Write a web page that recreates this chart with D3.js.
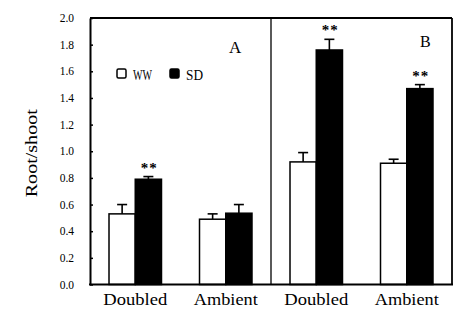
<!DOCTYPE html>
<html>
  <head>
    <script src="https://d3js.org/d3.v7.min.js"></script>
    <style>
      body { margin: 0; background: #fff; }
      .yaxis text { font-family: "Liberation Serif", "DejaVu Serif", serif; font-size: 11.5px; fill: #000; }
      .xaxis text { font-family: "Liberation Serif", "DejaVu Serif", serif; font-size: 17px; fill: #000; }
      .serif { font-family: "Liberation Serif", "DejaVu Serif", serif; }
    </style>
  </head>
  <body>
    <script>
      const groups = ['Doubled A', 'Ambient A', 'Doubled B', 'Ambient B'];
      const groupLabels = ['Doubled', 'Ambient', 'Doubled', 'Ambient'];
      const series = ['WW', 'SD'];
      const wwValues = [0.53, 0.49, 0.92, 0.91];
      const wwErrors = [0.07, 0.04, 0.07, 0.03];
      const sdValues = [0.79, 0.535, 1.76, 1.47];
      const sdErrors = [0.02, 0.065, 0.08, 0.03];
      const sdStars = ['**', '', '**', '**'];
      const yTicks = [0, 0.2, 0.4, 0.6, 0.8, 1.0, 1.2, 1.4, 1.6, 1.8, 2.0];

      const width = 467, height = 321;
      const plotL = 90, plotR = 452, plotT = 18, plotB = 284.5;

      const svg = d3.select('body').append('svg')
        .attr('width', width).attr('height', height);

      const x = d3.scaleBand().domain(groups).range([plotL, plotR])
        .paddingInner(0.42).paddingOuter(0.21);
      const xs = d3.scaleBand().domain(series).range([0, x.bandwidth()]);
      const y = d3.scaleLinear().domain([0, 2]).range([plotB, plotT]);

      const bars = [];
      groups.forEach((g, i) => {
        bars.push({ g, s: 'WW', v: wwValues[i], e: wwErrors[i], star: '' });
        bars.push({ g, s: 'SD', v: sdValues[i], e: sdErrors[i], star: sdStars[i] });
      });

      // error bars (upward only)
      const eb = svg.append('g').attr('stroke', '#000').attr('stroke-width', 1.6);
      bars.forEach(d => {
        const cx = x(d.g) + xs(d.s) + xs.bandwidth() / 2;
        eb.append('line').attr('x1', cx).attr('x2', cx)
          .attr('y1', y(d.v)).attr('y2', y(d.v + d.e));
        eb.append('line').attr('x1', cx - 5).attr('x2', cx + 5)
          .attr('y1', y(d.v + d.e)).attr('y2', y(d.v + d.e));
      });

      svg.selectAll('.bar').data(bars).enter().append('rect')
        .attr('class', 'bar')
        .attr('x', d => x(d.g) + xs(d.s))
        .attr('y', d => y(d.v))
        .attr('width', xs.bandwidth())
        .attr('height', d => y(0) - y(d.v))
        .attr('fill', d => d.s === 'SD' ? '#000' : '#fff')
        .attr('stroke', '#000')
        .attr('stroke-width', 1.5);

      svg.selectAll('.star').data(bars.filter(d => d.star)).enter().append('text')
        .attr('class', 'serif')
        .attr('x', d => x(d.g) + xs(d.s) + xs.bandwidth() / 2 + 1)
        .attr('y', d => y(d.v + d.e) - 4)
        .attr('text-anchor', 'middle')
        .attr('font-size', 15).attr('font-weight', 'bold')
        .attr('letter-spacing', 1)
        .text(d => d.star);

      // frame
      svg.append('line').attr('x1', plotL).attr('x2', plotR).attr('y1', plotT).attr('y2', plotT)
        .attr('stroke', '#000').attr('stroke-width', 1.8);
      svg.append('line').attr('x1', plotR).attr('x2', plotR).attr('y1', plotT).attr('y2', plotB)
        .attr('stroke', '#000').attr('stroke-width', 1.8);
      const divX = (x(groups[1]) + x.bandwidth() + x(groups[2])) / 2;
      svg.append('line').attr('x1', divX).attr('x2', divX).attr('y1', plotT).attr('y2', plotB)
        .attr('stroke', '#000').attr('stroke-width', 1.3);

      // y axis
      svg.append('g').attr('class', 'yaxis')
        .attr('transform', `translate(${plotL},0)`)
        .call(d3.axisLeft(y).tickValues(yTicks).tickFormat(d3.format('.1f'))
          .tickSizeInner(-3).tickSizeOuter(0).tickPadding(16))
        .call(g => g.select('.domain').attr('stroke-width', 2))
        .call(g => g.selectAll('.tick line').attr('stroke-width', 1.5));

      // x axis
      svg.append('g').attr('class', 'xaxis')
        .attr('transform', `translate(0,${plotB})`)
        .call(d3.axisBottom(x).tickSize(0).tickSizeOuter(0).tickFormat((d, i) => groupLabels[i]))
        .call(g => g.select('.domain').attr('stroke-width', 2).attr('d', `M${plotL - 1},0H${plotR + 1}`))
        .call(g => g.selectAll('text').attr('dy', '1.05em')
          .attr('textLength', 64).attr('lengthAdjust', 'spacingAndGlyphs'));

      // y label
      svg.append('text').attr('class', 'serif')
        .attr('transform', `translate(37,${(plotT + plotB) / 2 + 2}) rotate(-90)`)
        .attr('text-anchor', 'middle')
        .attr('font-size', 16)
        .attr('textLength', 88).attr('lengthAdjust', 'spacingAndGlyphs')
        .text('Root/shoot');

      // panel letters
      svg.append('text').attr('class', 'serif').attr('x', 229).attr('y', 53)
        .attr('font-size', 17).text('A');
      svg.append('text').attr('class', 'serif').attr('x', 420).attr('y', 47)
        .attr('font-size', 16).text('B');

      // legend
      const legend = [
        { s: 'WW', bx: 117, tx: 133, w: 19 },
        { s: 'SD', bx: 170, tx: 186, w: 17 }
      ];
      legend.forEach(l => {
        svg.append('rect').attr('x', l.bx).attr('y', 69).attr('width', 9).attr('height', 9)
          .attr('rx', 1.5)
          .attr('fill', l.s === 'SD' ? '#000' : '#fff').attr('stroke', '#000').attr('stroke-width', 1.5);
        svg.append('text').attr('class', 'serif').attr('x', l.tx).attr('y', 80)
          .attr('font-size', 15)
          .attr('textLength', l.w).attr('lengthAdjust', 'spacingAndGlyphs')
          .text(l.s);
      });
    </script>
  </body>
</html>
